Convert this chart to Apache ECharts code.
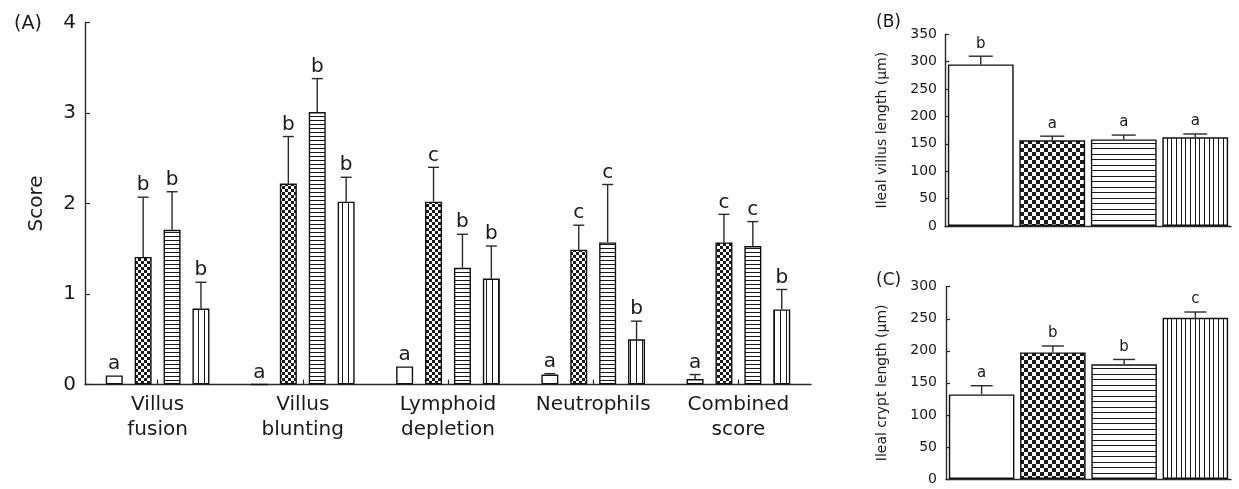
<!DOCTYPE html>
<html>
<head>
<meta charset="utf-8">
<script src="https://cdn.jsdelivr.net/npm/echarts@6/dist/echarts.min.js"></script>
<style>
  html, body { margin: 0; padding: 0; background: #fff; }
  #chart { width: 1239px; height: 489px; }
</style>
</head>
<body>
<div id="chart"></div>
<script>
// ---- Panel A: histological scores ----
const categoriesA = ['Villus\nfusion', 'Villus\nblunting', 'Lymphoid\ndepletion', 'Neutrophils', 'Combined\nscore'];
const scoreTicks = [0, 1, 2, 3, 4];
// mean score per treatment group
const meanA1 = [0.10, 0.00, 0.20, 0.11, 0.06];
const meanA2 = [1.41, 2.22, 2.02, 1.49, 1.57];
const meanA3 = [1.71, 3.01, 1.29, 1.57, 1.53];
const meanA4 = [0.84, 2.02, 1.17, 0.50, 0.83];
// standard error per treatment group
const semA1 = [0.00, 0.00, 0.00, 0.01, 0.05];
const semA2 = [0.66, 0.52, 0.38, 0.27, 0.31];
const semA3 = [0.42, 0.37, 0.37, 0.64, 0.27];
const semA4 = [0.29, 0.27, 0.36, 0.20, 0.22];
// significance letters
const letA1 = ['a', 'a', 'a', 'a', 'a'];
const letA2 = ['b', 'b', 'c', 'c', 'c'];
const letA3 = ['b', 'b', 'b', 'c', 'c'];
const letA4 = ['b', 'b', 'b', 'b', 'b'];

// ---- Panel B: ileal villus length ----
const groupsBC = ['G1', 'G2', 'G3', 'G4'];
const meanB = [295, 156.5, 158, 162];
const semB = [15, 7.5, 8, 6];
const letB = ['b', 'a', 'a', 'a'];

// ---- Panel C: ileal crypt length ----
const meanC = [132, 197.5, 179, 251.5];
const semC = [13.5, 10, 7.5, 9];
const letC = ['a', 'b', 'b', 'c'];

const FONT = 'DejaVu Sans';
const INK = '#1a1a1a';

// fill patterns for the four treatment groups
function makePattern(w, h, draw) {
  const c = document.createElement('canvas');
  c.width = w; c.height = h;
  const ctx = c.getContext('2d');
  ctx.fillStyle = '#fff';
  ctx.fillRect(0, 0, w, h);
  ctx.fillStyle = '#1a1a1a';
  draw(ctx, w, h);
  return { image: c, repeat: 'repeat' };
}
function checker(s) {
  return makePattern(2 * s, 2 * s, ctx => { ctx.fillRect(0, 0, s, s); ctx.fillRect(s, s, s, s); });
}
function hLines(h, ys) {
  return makePattern(4, h, (ctx, w) => { ys.forEach(y => ctx.fillRect(0, y, w, 1)); });
}
function vLines(w, xs) {
  return makePattern(w, 4, (ctx, ww, hh) => { xs.forEach(x => ctx.fillRect(x, 0, 1, hh)); });
}
const fillsA = ['#fff', checker(3), hLines(4, [0]), vLines(6, [0])];
const fillsBC = ['#fff', checker(4), hLines(11, [0, 5]), vLines(14, [0, 5, 9])];

const meansA = [meanA1, meanA2, meanA3, meanA4];
const semsA = [semA1, semA2, semA3, semA4];
const letsA = [letA1, letA2, letA3, letA4];

const BAR_W_A = 17, BAR_GAP_A = 0.7;
const PITCH_A = BAR_W_A * (1 + BAR_GAP_A);

// error bar + letter drawn above a bar
function errorItem(api, cx, mean, sem, letter, capW, fontSize, gap) {
  const base = api.coord([0, mean]);
  const top = api.coord([0, mean + sem]);
  const yMean = base[1], yTop = top[1];
  const children = [];
  if (sem > 0) {
    children.push({ type: 'line', shape: { x1: cx, y1: yMean, x2: cx, y2: yTop }, style: { stroke: '#2a2a2a', lineWidth: 1.4 } });
    children.push({ type: 'line', shape: { x1: cx - capW / 2, y1: yTop, x2: cx + capW / 2, y2: yTop }, style: { stroke: '#2a2a2a', lineWidth: 1.4 } });
  }
  children.push({
    type: 'text',
    style: { text: letter, x: cx, y: yTop - gap, align: 'center', verticalAlign: 'bottom', fontSize: fontSize, fontFamily: FONT, fill: INK }
  });
  return { type: 'group', children: children };
}

const series = [];
meansA.forEach((m, g) => {
  series.push({
    type: 'bar', xAxisIndex: 0, yAxisIndex: 0, data: m,
    barWidth: BAR_W_A, barGap: (BAR_GAP_A * 100) + '%',
    itemStyle: { color: fillsA[g], borderColor: '#111', borderWidth: 1.4 },
    emphasis: { disabled: true }, animation: false
  });
});
meansA.forEach((m, g) => {
  series.push({
    type: 'custom', xAxisIndex: 0, yAxisIndex: 0, z: 5, clip: false, animation: false,
    data: m.map((v, i) => [i, v + semsA[g][i]]),
    renderItem: function (params, api) {
      const i = params.dataIndex;
      const cx = api.coord([i, 0])[0] + (g - 1.5) * PITCH_A;
      return errorItem(api, cx, meansA[g][i], semsA[g][i], letsA[g][i], 11, 20, 2);
    }
  });
});

function bcSeries(axisIdx, means, sems, lets, capW) {
  series.push({
    type: 'bar', xAxisIndex: axisIdx, yAxisIndex: axisIdx,
    data: means.map((v, i) => ({ value: v, itemStyle: { color: fillsBC[i] } })),
    barCategoryGap: '8%',
    itemStyle: { borderColor: '#111', borderWidth: 1.4 },
    emphasis: { disabled: true }, animation: false
  });
  series.push({
    type: 'custom', xAxisIndex: axisIdx, yAxisIndex: axisIdx, z: 5, clip: false, animation: false,
    data: means.map((v, i) => [i, v + sems[i]]),
    renderItem: function (params, api) {
      const i = params.dataIndex;
      const cx = api.coord([i, 0])[0];
      return errorItem(api, cx, means[i], sems[i], lets[i], capW, 15, 5);
    }
  });
}
bcSeries(1, meanB, semB, letB, 24);
bcSeries(2, meanC, semC, letC, 22);

const axisLine = { show: true, lineStyle: { color: '#2a2a2a', width: 1.4 } };

const option = {
  backgroundColor: '#fff',
  animation: false,
  title: [
    { text: '(A)', left: 9, top: 10, textStyle: { fontFamily: FONT, fontSize: 19, fontWeight: 'normal', color: INK } },
    { text: '(B)', left: 871, top: 9, textStyle: { fontFamily: FONT, fontSize: 17, fontWeight: 'normal', color: INK } },
    { text: '(C)', left: 871, top: 267, textStyle: { fontFamily: FONT, fontSize: 17, fontWeight: 'normal', color: INK } }
  ],
  grid: [
    { left: 85, top: 22.5, width: 726, height: 362 },
    { left: 945, top: 34.3, width: 286, height: 191.7 },
    { left: 946, top: 286.7, width: 285, height: 192.3 }
  ],
  xAxis: [
    {
      type: 'category', gridIndex: 0, data: categoriesA,
      axisLine: axisLine,
      axisTick: { show: true, inside: true, length: 5, alignWithLabel: true, lineStyle: { color: '#2a2a2a', width: 1.2 } },
      axisLabel: { margin: 8, fontFamily: FONT, fontSize: 20, lineHeight: 25, color: INK, interval: 0 }
    },
    {
      type: 'category', gridIndex: 1, data: groupsBC,
      axisLine: axisLine, axisTick: { show: false }, axisLabel: { show: false }
    },
    {
      type: 'category', gridIndex: 2, data: groupsBC,
      axisLine: axisLine, axisTick: { show: false }, axisLabel: { show: false }
    }
  ],
  yAxis: [
    {
      type: 'value', gridIndex: 0, min: scoreTicks[0], max: scoreTicks[scoreTicks.length - 1], interval: 1,
      name: 'Score', nameLocation: 'middle', nameGap: 38,
      nameTextStyle: { fontFamily: FONT, fontSize: 20, color: INK },
      axisLine: axisLine, splitLine: { show: false },
      axisTick: { show: true, inside: true, length: 5, lineStyle: { color: '#2a2a2a', width: 1.2 } },
      axisLabel: { margin: 9, fontFamily: FONT, fontSize: 20, color: INK }
    },
    {
      type: 'value', gridIndex: 1, min: 0, max: 350, interval: 50,
      name: 'Ileal villus length (μm)', nameLocation: 'middle', nameGap: 56,
      nameTextStyle: { fontFamily: FONT, fontSize: 14, color: INK },
      axisLine: axisLine, splitLine: { show: false },
      axisTick: { show: true, inside: true, length: 4, lineStyle: { color: '#2a2a2a', width: 1.2 } },
      axisLabel: { margin: 8, fontFamily: FONT, fontSize: 14, color: INK }
    },
    {
      type: 'value', gridIndex: 2, min: 0, max: 300, interval: 50,
      name: 'Ileal crypt length (μm)', nameLocation: 'middle', nameGap: 57,
      nameTextStyle: { fontFamily: FONT, fontSize: 14, color: INK },
      axisLine: axisLine, splitLine: { show: false },
      axisTick: { show: true, inside: true, length: 4, lineStyle: { color: '#2a2a2a', width: 1.2 } },
      axisLabel: { margin: 9, fontFamily: FONT, fontSize: 14, color: INK }
    }
  ],
  series: series
};

const chart = echarts.init(document.getElementById('chart'), null, { renderer: 'canvas' });
chart.setOption(option);
</script>
</body>
</html>
